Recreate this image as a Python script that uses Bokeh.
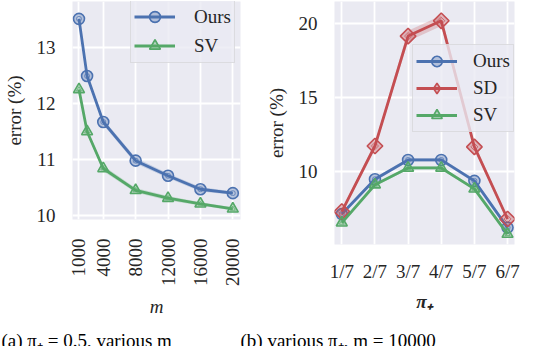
from math import pi
from bokeh.plotting import figure
from bokeh.layouts import column, row
from bokeh.models import Range1d, FixedTicker, Label
from bokeh.embed import file_html
from bokeh.resources import INLINE

# ---------------- data ----------------
m_values = [1000, 2000, 4000, 8000, 12000, 16000, 20000]
m_ticks = [1000, 4000, 8000, 12000, 16000, 20000]
ours_m = [13.51, 12.49, 11.67, 10.98, 10.71, 10.47, 10.40]
ours_m_sd = [0.03, 0.04, 0.05, 0.05, 0.04, 0.04, 0.03]
sv_m = [12.25, 11.50, 10.84, 10.45, 10.31, 10.21, 10.12]
sv_m_sd = [0.03, 0.04, 0.05, 0.04, 0.04, 0.03, 0.03]

pi_pos = [1, 2, 3, 4, 5, 6]
pi_labels = ["1/7", "2/7", "3/7", "4/7", "5/7", "6/7"]
ours_pi = [7.15, 9.50, 10.80, 10.80, 9.39, 6.24]
ours_pi_sd = [0.12, 0.12, 0.12, 0.12, 0.12, 0.12]
sd_pi = [7.32, 11.74, 19.15, 20.18, 11.68, 6.82]
sd_pi_sd = [0.15, 0.2, 0.35, 0.35, 0.2, 0.15]
sv_pi = [6.56, 9.13, 10.26, 10.26, 8.85, 5.80]
sv_pi_sd = [0.1, 0.1, 0.1, 0.1, 0.1, 0.1]

captions = ["(a) π₊ = 0.5, various m", "(b) various π₊, m = 10000"]

BLUE, RED, GREEN = "#4C72B0", "#C44E52", "#55A868"
BG = "#EAEAF2"
FONT = "Liberation Serif"
TXT = "#262626"
FS = "19px"


def style(p):
    p.background_fill_color = BG
    p.border_fill_color = "white"
    p.outline_line_color = None
    p.frame_align = False
    for g in (p.xgrid, p.ygrid):
        g.grid_line_color = "white"
        g.grid_line_width = 1.8
    for ax in (p.xaxis, p.yaxis):
        ax.axis_line_color = None
        ax.major_tick_line_color = None
        ax.minor_tick_line_color = None
        ax.major_tick_out = 0
        ax.major_tick_in = 0
        ax.minor_tick_out = 0
        ax.major_label_text_font = FONT
        ax.major_label_text_font_size = FS
        ax.major_label_text_color = TXT
        ax.axis_label_text_font = FONT
        ax.axis_label_text_font_size = FS
        ax.axis_label_text_color = TXT
        ax.axis_label_text_font_style = "normal"
    p.yaxis.major_label_standoff = 17
    p.yaxis.axis_label_standoff = 9


def series(p, x, y, sd, color, marker, label, angle=0.0, legend_marker=None):
    lo = [a - b for a, b in zip(y, sd)]
    hi = [a + b for a, b in zip(y, sd)]
    p.varea(x=x, y1=lo, y2=hi, fill_color=color, fill_alpha=0.25)
    p.line(x, y, line_color=color, line_width=2.8, legend_label=label)
    kw = {} if legend_marker else {"legend_label": label}
    p.scatter(x, y, marker=marker, size=11, angle=angle, fill_color=color,
              fill_alpha=0.35, line_color=color, line_width=1.6, **kw)
    p.scatter(x, y, marker=marker, size=5, angle=angle, fill_color=None,
              line_color=color, line_alpha=0.7, line_width=1, **kw)
    if legend_marker:
        # legend-only proxy glyph (legend markers are never rotated);
        # its y values are NaN so nothing is drawn in the plot itself
        nan_y = [float("nan") for _ in x]
        p.scatter(x=x, y=nan_y, marker=legend_marker, fill_color=color,
                  fill_alpha=0.35, line_color=color, line_width=1.6,
                  legend_label=label)


def style_legend(p, loc, gh, spacing, padding, standoff):
    lg = p.legend[0]
    lg.location = loc
    lg.label_text_font = FONT
    lg.label_text_font_size = FS
    lg.label_text_color = TXT
    lg.glyph_width = 41
    lg.glyph_height = gh
    lg.label_height = gh
    lg.label_standoff = standoff
    lg.padding = padding
    lg.spacing = spacing
    lg.margin = 0
    lg.border_line_color = "#CCCCCC"
    lg.border_line_width = 1.2
    lg.background_fill_color = BG
    lg.background_fill_alpha = 0.8


# ---------------- left panel ----------------
p1 = figure(width=262, height=320, output_backend="svg", toolbar_location=None,
            x_range=Range1d(200, 20950), y_range=Range1d(9.93, 13.82),
            min_border_left=64, min_border_right=22, min_border_top=1,
            min_border_bottom=91)
style(p1)
p1.xaxis.ticker = FixedTicker(ticks=m_ticks)
p1.yaxis.ticker = FixedTicker(ticks=[10, 11, 12, 13])
p1.xaxis.major_label_orientation = pi / 2
p1.xaxis.major_label_standoff = 19
p1.xaxis.axis_label = "m"
p1.xaxis.axis_label_text_font_style = "italic"
p1.xaxis.axis_label_standoff = 7
p1.yaxis.axis_label = "error (%)"
series(p1, m_values, ours_m, ours_m_sd, BLUE, "circle", "Ours")
series(p1, m_values, sv_m, sv_m_sd, GREEN, "triangle", "SV")
style_legend(p1, (58, 156), gh=27, spacing=2, padding=3, standoff=19)

# ---------------- right panel ----------------
p2 = figure(width=262, height=320, output_backend="svg", toolbar_location=None,
            x_range=Range1d(0.78, 6.21), y_range=Range1d(5.1, 21.48),
            min_border_left=67, min_border_right=10, min_border_top=1,
            min_border_bottom=76)
style(p2)
p2.xaxis.ticker = FixedTicker(ticks=pi_pos)
p2.xaxis.major_label_overrides = {k: v for k, v in zip(pi_pos, pi_labels)}
p2.yaxis.ticker = FixedTicker(ticks=[10, 15, 20])
p2.xaxis.major_label_standoff = 16
p2.xaxis.axis_label = "π₊"
p2.xaxis.axis_label_text_font_style = "bold italic"
p2.xaxis.axis_label_standoff = 6
p2.yaxis.axis_label = "error (%)"
series(p2, pi_pos, ours_pi, ours_pi_sd, BLUE, "circle", "Ours")
series(p2, pi_pos, sd_pi, sd_pi_sd, RED, "square", "SD", angle=pi / 4,
       legend_marker="diamond")
series(p2, pi_pos, sv_pi, sv_pi_sd, GREEN, "triangle", "SV")
style_legend(p2, (78, 112), gh=26, spacing=1, padding=3, standoff=16)

# ---------------- caption strip ----------------
cap = figure(width=524, height=26, output_backend="svg", toolbar_location=None,
             x_range=Range1d(0, 524), y_range=Range1d(0, 26),
             min_border=0)
cap.axis.visible = False
cap.grid.visible = False
cap.outline_line_color = None
cap.background_fill_color = "white"
for txt, xpos in zip(captions, [1, 240]):
    cap.add_layout(Label(x=xpos, y=6, text=txt, text_font=FONT,
                         text_font_size="19px", text_color="black",
                         text_baseline="alphabetic", text_align="left"))

layout = column(row(p1, p2, spacing=0), cap, spacing=0)
open("out.html", "w").write(file_html(layout, INLINE))
